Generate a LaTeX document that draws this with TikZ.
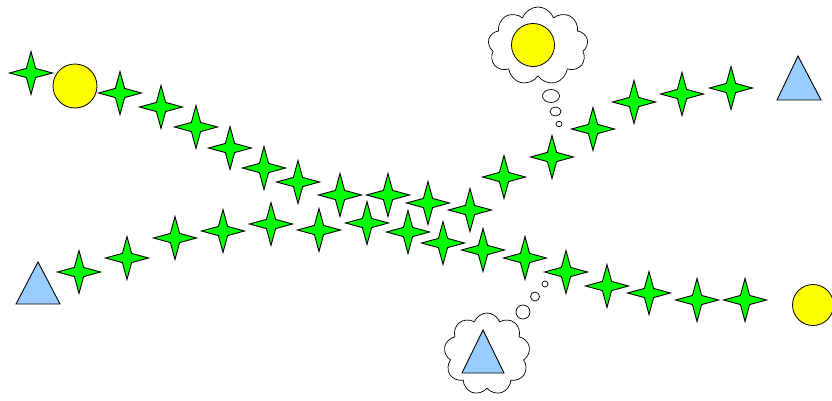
\documentclass[tikz,border=0pt]{standalone}
\usetikzlibrary{shapes.symbols,shapes.geometric}
\definecolor{starg}{HTML}{00FF00}
\definecolor{suny}{HTML}{FFFF00}
\definecolor{trib}{HTML}{99CCFF}
\tikzset{
  starpic/.pic={\draw[line width=0.9pt,fill=starg,line join=miter]
     (0:21.5)--(45:6.5)--(90:21.5)--(135:6.5)--(180:21.5)--(225:6.5)--(270:21.5)--(315:6.5)--cycle;},
  sunshape/.style={circle,draw,line width=0.8pt,fill=suny,inner sep=0pt},
  trishape/.style={draw,line width=0.9pt,fill=trib,line join=miter},
  thought/.style={cloud,cloud puffs=9,cloud puff arc=140,draw,line width=0.7pt,fill=white,cloud ignores aspect,inner sep=0pt},
  bubble/.style={draw,line width=0.7pt,fill=white}
}
\begin{document}
\begin{tikzpicture}[x=1pt,y=-1pt]
\useasboundingbox (0,0) rectangle (832,401);
% thought clouds
\node[thought,minimum width=100pt,minimum height=78pt] (c1) at (538,46) {};
\node[sunshape,minimum size=43pt] (s3) at (533,45) {};
\draw[bubble] (551,96) ellipse (8.5 and 6.5);
\draw[bubble] (555.5,111.5) ellipse (5.5 and 4.5);
\draw[bubble] (559,124) ellipse (3 and 2.8);
\node[thought,minimum width=86pt,minimum height=82pt] (c2) at (487,354) {};
\draw[trishape] (483,330)--(504,373)--(462,373)--cycle;
\draw[bubble] (523,312) circle (7);
\draw[bubble] (535,296.5) circle (4.5);
\draw[bubble] (545,284) circle (3);
% suns
\node[sunshape,minimum size=44pt] (s1) at (75,86) {};
\node[sunshape,minimum size=41pt] (s2) at (813,305) {};
% triangles
\draw[trishape] (798,56)--(821,100)--(777,100)--cycle;
\draw[trishape] (38,262)--(60,304)--(16,304)--cycle;
% stars
\foreach \x/\y in {31/73,120/93,161/107,196/127,230/148,264/168,298/182,340/195,388/195,428/203,470/210,504/177,552/157,593/129,634/102,682/94,731/88,
79/272,127/258,175/238,223/231,271/224,319/230,367/223,408/232,443/243,483/250,525/258,566/272,607/286,649/293,697/300,745/300}
  \pic at (\x,\y) {starpic};
\end{tikzpicture}
\end{document}
